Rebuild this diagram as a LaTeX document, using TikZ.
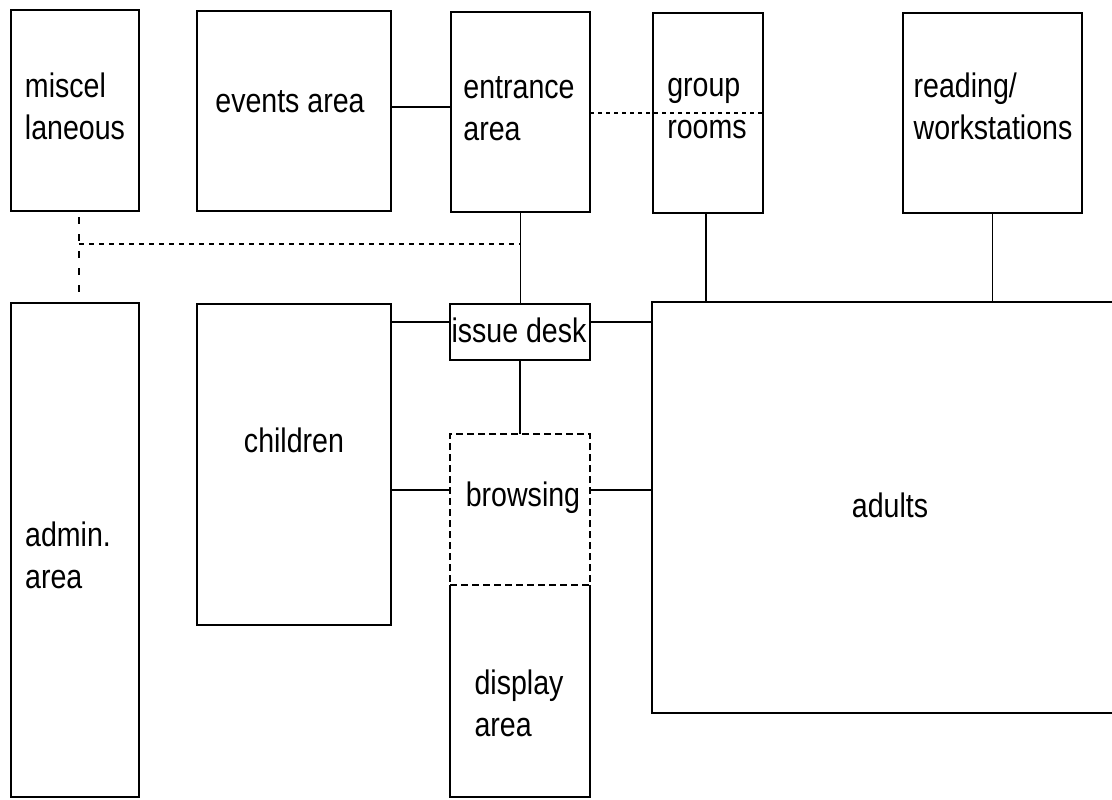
\documentclass[tikz,border=0pt]{standalone}
\usepackage{fontspec}
\setmainfont{Liberation Sans}[FakeStretch=0.84]
\usetikzlibrary{calc}
% two left-aligned lines whose baseline is that of the first line
\newcommand\twoline[2]{\vtop{\baselineskip=42pt\hbox{#1}\hbox{#2}}}
\begin{document}
\begin{tikzpicture}[x=1pt,y=-1pt,
  room/.style={draw, line width=1.8pt, rectangle, inner sep=0pt, outer sep=0pt, anchor=north west},
  openroom/.style={room, draw=none},
  dashroom/.style={room, dash pattern=on 7pt off 4pt},
  wall/.style={line width=1.8pt},
  lbl/.style={font=\fontsize{34}{42}\selectfont, inner sep=0pt, anchor=base},
  link/.style={line width=1.6pt},
  hdash/.style={line width=1.5pt, dash pattern=on 5pt off 5pt},
  vdash/.style={line width=1.5pt, dash pattern=on 7pt off 10pt},
  fdash/.style={line width=1.5pt, dash pattern=on 4pt off 4pt}]
\useasboundingbox (0,0) rectangle (1112,800);

% rooms
\node[room, minimum width=128pt, minimum height=201pt] (misc) at (11,10) {};
\node[room, minimum width=194pt, minimum height=200pt] (events) at (197,11) {};
\node[room, minimum width=139pt, minimum height=200pt] (ent) at (451,12) {};
\node[room, minimum width=110pt, minimum height=200pt] (group) at (653,13) {};
\node[room, minimum width=179pt, minimum height=200pt] (read) at (903,13) {};
\node[room, minimum width=128pt, minimum height=494pt] (admin) at (11,303) {};
\node[room, minimum width=194pt, minimum height=321pt] (child) at (197,304) {};
\node[room, minimum width=140pt, minimum height=56pt] (issue) at (450,304) {};
\node[openroom, minimum width=140pt, minimum height=212pt] (disp) at (450,585) {};
\node[openroom, minimum width=460pt, minimum height=411pt] (adults) at (652,302) {};

\draw[wall] (disp.north west) -- (disp.south west) -- (disp.south east) -- (disp.north east);
\node[dashroom, minimum width=140pt, minimum height=151pt] (brows) at (450,434) {};
\draw[wall] (adults.north east) -- (adults.north west) -- (adults.south west) -- (adults.south east);

% labels
\node[lbl] (miscT) at (75,98) {\twoline{miscel}{laneous}};
\node[lbl] (eventsT) at (290,113) {events area};
\node[lbl] (entT) at (519,99) {\twoline{entrance}{area}};
\node[lbl] (groupT) at (707,96) {\twoline{group}{rooms}};
\node[lbl] (readT) at (993,98) {\twoline{reading/}{workstations}};
\node[lbl] (adminT) at (68,546) {\twoline{admin.}{area}};
\node[lbl] (childT) at (294,452) {children};
\node[lbl] (issueT) at (519,342) {issue desk};
\node[lbl] (browsT) at (523,506) {browsing};
\node[lbl] (dispT) at (519,694) {\twoline{display}{area}};
\node[lbl] (adultsT) at (890,517) {adults};

% connections
\draw[link] ([yshift=4pt]events.east) -- ([yshift=4pt]events.east -| ent.west);
\draw[fdash] ([yshift=-1pt]ent.east) -- ([yshift=-1pt]ent.east -| group.east);
\draw[link] (ent.south) -- (ent.south |- issue.north);
\coordinate (mj) at ($(misc.south)+(4,33)$);
\draw[vdash] ($(misc.south)+(4,6)$) -- ($(admin.north)+(4,-10)$);
\draw[hdash] (mj) -- (mj -| ent.south);
\draw[link] ([xshift=-2pt]group.south) -- ([xshift=-2pt]group.south |- adults.north);
\draw[link] (read.south) -- (read.south |- adults.north);
\draw[link] ([yshift=10pt]issue.west) -- ([yshift=10pt]issue.west -| child.east);
\draw[link] ([yshift=10pt]issue.east) -- ([yshift=10pt]issue.east -| adults.west);
\draw[link] (issue.south) -- (issue.south |- brows.north);
\draw[link] ([yshift=19.5pt]brows.west) -- ([yshift=19.5pt]brows.west -| child.east);
\draw[link] ([yshift=19.5pt]brows.east) -- ([yshift=19.5pt]brows.east -| adults.west);
\end{tikzpicture}
\end{document}
